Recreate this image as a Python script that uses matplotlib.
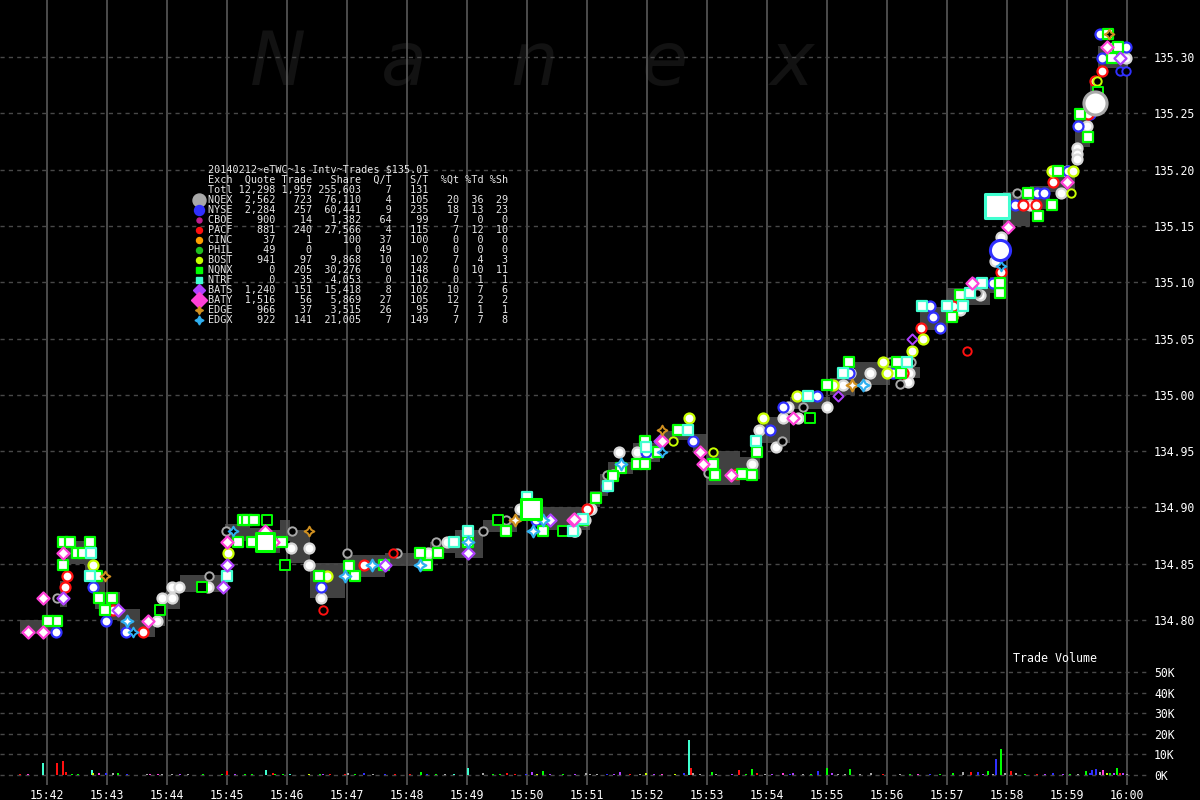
import matplotlib
matplotlib.use('Agg')
from matplotlib import pyplot as plt
import numpy as np

plt.rcParams['font.family'] = ['DejaVu Sans Mono']

# all times are seconds after 15:42:00
minutes = ['15:42', '15:43', '15:44', '15:45', '15:46', '15:47', '15:48', '15:49', '15:50',
           '15:51', '15:52', '15:53', '15:54', '15:55', '15:56', '15:57', '15:58', '15:59', '16:00']
price_ticks = [134.80, 134.85, 134.90, 134.95, 135.00, 135.05, 135.10, 135.15, 135.20, 135.25, 135.30]
vol_ticks = [0, 10000, 20000, 30000, 40000, 50000]

# NBBO band (bid / ask)
band_t = [-27, 13, 20, 38, 48, 58, 73, 93, 108, 118, 133, 178, 203, 218, 233, 243, 263, 298,
          338, 383, 408, 436, 470, 493, 543, 553, 561, 586, 613, 646, 660, 693, 713, 743,
          783, 808, 843, 873, 900, 943, 956, 983, 1003, 1028, 1043, 1051, 1071, 1081]
band_lo = [134.788, 134.812, 134.850, 134.835, 134.810, 134.800, 134.790, 134.785, 134.795, 134.810,
           134.825, 134.870, 134.868, 134.860, 134.870, 134.851, 134.820, 134.838, 134.848, 134.860,
           134.855, 134.878, 134.889, 134.880, 134.900, 134.910, 134.930, 134.940, 134.960, 134.950,
           134.920, 134.925, 134.957, 134.987, 135.000, 135.009, 135.015, 135.058, 135.080, 135.090,
           135.150, 135.165, 135.180, 135.220, 135.260, 135.290, 135.285, 135.285]
band_hi = [134.800, 134.835, 134.870, 134.860, 134.840, 134.825, 134.810, 134.800, 134.810, 134.825,
           134.840, 134.885, 134.882, 134.880, 134.889, 134.880, 134.851, 134.858, 134.860, 134.869,
           134.880, 134.889, 134.900, 134.900, 134.915, 134.930, 134.940, 134.957, 134.968, 134.965,
           134.950, 134.945, 134.980, 134.998, 135.015, 135.029, 135.025, 135.078, 135.095, 135.105,
           135.180, 135.185, 135.200, 135.245, 135.280, 135.310, 135.300, 135.300]

# trades per exchange (time, price); *_odd are odd lots drawn hollow
nqex_trades = [(115, 134.820), (125, 134.820), (125, 134.829), (132, 134.829), (161, 134.829), (110, 134.799),
               (244, 134.864), (262, 134.864), (262, 134.849), (274, 134.820), (381, 134.860), (400, 134.869),
               (538, 134.889), (543, 134.899), (527, 134.879), (473, 134.899), (572, 134.949), (604, 134.949),
               (590, 134.949), (566, 134.929), (544, 134.899), (528, 134.879), (705, 134.939), (712, 134.969),
               (729, 134.954), (736, 134.979), (741, 134.989), (751, 134.979), (780, 134.989), (796, 135.009),
               (818, 135.009), (823, 135.019), (803, 135.019), (862, 135.019), (861, 135.011), (948, 135.119),
               (954, 135.140), (933, 135.089), (913, 135.075), (1040, 135.239), (1030, 135.219), (1030, 135.214),
               (1030, 135.209), (1020, 135.199), (1014, 135.179), (983, 135.169), (1079, 135.299), (1068, 135.309)]
nqex_odd = [(10, 134.820), (162, 134.839), (179, 134.879), (245, 134.879), (300, 134.860), (389, 134.869),
            (436, 134.879), (459, 134.889), (350, 134.860), (735, 134.959), (560, 134.929), (661, 134.931),
            (843, 135.029), (864, 135.029), (853, 135.010), (756, 134.989), (930, 135.090), (970, 135.179),
            (1006, 135.199)]
nyse_trades = [(9, 134.789), (79, 134.789), (46, 134.829), (59, 134.799), (274, 134.829), (489, 134.889),
               (560, 134.919), (599, 134.949), (646, 134.959), (723, 134.969), (736, 134.989), (770, 134.999),
               (846, 135.019), (883, 135.079), (886, 135.069), (893, 135.059), (946, 135.099), (926, 135.099),
               (802, 135.019), (1031, 135.239), (990, 135.179), (997, 135.179), (968, 135.169), (1079, 135.309),
               (1053, 135.320), (1055, 135.299), (1043, 135.249), (1021, 135.199)]
nyse_odd = [(1073, 135.288), (1079, 135.288)]
pacf_trades = [(20, 134.839), (18, 134.829), (66, 134.809), (96, 134.789), (317, 134.849), (690, 134.930),
               (540, 134.899), (874, 135.059), (906, 135.079), (856, 135.019), (954, 135.109), (1048, 135.279),
               (1055, 135.288), (1006, 135.189), (989, 135.169), (976, 135.169), (1041, 135.249)]
pacf_odd = [(276, 134.809), (346, 134.860), (920, 135.039)]
bost_trades = [(46, 134.849), (181, 134.860), (280, 134.839), (642, 134.979), (716, 134.979), (750, 134.999),
               (786, 135.009), (840, 135.019), (836, 135.029), (865, 135.039), (876, 135.050), (1026, 135.199),
               (1005, 135.199)]
bost_odd = [(626, 134.959), (666, 134.949), (906, 135.069), (1024, 135.179), (1050, 135.279), (1070, 135.309)]
nqnx_trades = [(16, 134.869), (23, 134.869), (43, 134.869), (30, 134.860), (36, 134.860), (16, 134.849),
               (10, 134.799), (1, 134.799), (65, 134.820), (52, 134.820), (58, 134.809), (50, 134.839),
               (191, 134.869), (205, 134.869), (196, 134.889), (200, 134.889), (207, 134.889), (235, 134.869),
               (272, 134.839), (308, 134.839), (302, 134.848), (337, 134.849), (373, 134.860), (380, 134.849),
               (391, 134.860), (421, 134.869), (459, 134.879), (496, 134.879), (536, 134.889), (549, 134.908),
               (598, 134.959), (590, 134.939), (598, 134.939), (574, 134.935), (566, 134.928), (611, 134.949),
               (631, 134.969), (666, 134.939), (668, 134.929), (695, 134.930), (705, 134.929), (710, 134.949),
               (780, 135.009), (802, 135.029), (850, 135.029), (854, 135.019), (953, 135.090), (953, 135.099),
               (913, 135.089), (905, 135.069), (1041, 135.229), (1061, 135.320), (1071, 135.309), (1005, 135.169),
               (991, 135.159), (981, 135.179), (1033, 135.249), (1011, 135.199), (1065, 135.299)]
nqnx_odd = [(113, 134.809), (155, 134.829), (220, 134.889), (238, 134.849), (451, 134.889), (516, 134.879),
            (763, 134.979), (1051, 135.269)]
ntrf_trades = [(44, 134.860), (180, 134.839), (43, 134.839), (480, 134.909), (421, 134.879), (407, 134.869),
               (526, 134.879), (599, 134.954), (641, 134.969), (709, 134.959), (561, 134.919), (536, 134.890),
               (875, 135.079), (900, 135.079), (916, 135.079), (923, 135.090), (935, 135.099), (860, 135.029),
               (796, 135.019), (761, 134.999)]
bats_trades = [(16, 134.820), (180, 134.849), (71, 134.809), (176, 134.829), (338, 134.849), (503, 134.889),
               (421, 134.860), (613, 134.959), (1073, 135.299)]
bats_odd = [(865, 135.050), (791, 134.999)]
baty_trades = [(-19, 134.789), (-4, 134.820), (-4, 134.789), (16, 134.860), (180, 134.869), (101, 134.799),
               (218, 134.879), (526, 134.889), (226, 134.869), (615, 134.959), (653, 134.949), (656, 134.939),
               (684, 134.929), (527, 134.890), (746, 134.979), (925, 135.099), (1020, 135.189), (961, 135.149),
               (1060, 135.309)]
edge_trades = [(468, 134.889), (805, 135.009)]
edge_odd = [(58, 134.839), (262, 134.879), (615, 134.969), (1062, 135.320)]
edgx_trades = [(80, 134.799), (325, 134.849), (373, 134.849), (298, 134.839), (486, 134.879), (496, 134.889),
               (421, 134.869), (574, 134.939), (816, 135.009)]
edgx_odd = [(86, 134.789), (186, 134.879), (615, 134.949), (954, 135.114)]

# block prints (time, price, exchange, shares)
big_trades = [(950, 135.168, 'NTRF', 5000), (484, 134.899, 'NQNX', 3000), (218, 134.869, 'NQNX', 2500),
              (1048, 135.259, 'NQEX', 5000), (953, 135.129, 'NYSE', 3500)]

# trade volume (time, thousand shares, exchange)
vol_t = [-27, -19, -4, 10, 16, 19, 25, 31, 45, 46, 52, 59, 66, 71, 80, 100, 103, 111, 115, 125, 133, 141,
         156, 175, 180, 188, 198, 205, 219, 226, 228, 236, 243, 262, 273, 276, 283, 298, 301, 308, 317, 326,
         338, 348, 363, 374, 380, 389, 398, 407, 421, 436, 446, 453, 460, 468, 479, 485, 490, 496, 503, 516,
         528, 539, 543, 550, 560, 567, 573, 583, 593, 599, 607, 615, 628, 637, 642, 644, 646, 653, 665, 669,
         685, 692, 699, 705, 710, 718, 725, 736, 743, 746, 756, 764, 771, 780, 785, 791, 798, 803, 813, 824,
         836, 853, 863, 871, 883, 893, 906, 916, 924, 931, 936, 941, 946, 949, 954, 958, 964, 969, 978, 990,
         998, 1006, 1016, 1023, 1031, 1039, 1043, 1045, 1049, 1053, 1056, 1060, 1063, 1067, 1070, 1073, 1076, 1080]
vol_k = [0.3, 0.3, 5.6, 5.6, 6.8, 1.6, 0.4, 0.4, 2.4, 1.1, 0.8, 1.1, 1.1, 0.8, 0.5, 0.3, 0.3, 0.6, 0.6, 0.3,
         0.6, 0.3, 0.3, 0.3, 2.0, 0.3, 0.4, 0.3, 2.4, 1.1, 0.6, 0.6, 0.3, 0.6, 0.6, 0.6, 0.3, 0.3, 1.1, 0.3,
         1.1, 0.3, 0.3, 0.3, 0.3, 1.5, 0.5, 0.3, 0.3, 0.5, 3.5, 1.1, 0.3, 0.3, 1.1, 0.5, 0.5, 1.5, 0.5, 2.0,
         0.3, 0.3, 0.5, 1.1, 0.5, 0.5, 0.3, 0.3, 1.5, 0.3, 0.5, 1.1, 0.3, 0.3, 0.3, 1.0, 17.0, 3.2, 1.1, 0.5,
         1.5, 0.5, 0.3, 2.4, 0.3, 2.9, 1.0, 0.3, 0.5, 1.0, 0.3, 1.0, 0.3, 0.5, 2.0, 3.5, 1.1, 0.5, 0.5, 2.9,
         0.3, 1.0, 0.3, 0.5, 0.3, 0.5, 0.3, 0.3, 1.1, 1.3, 1.5, 1.3, 0.5, 1.8, 0.5, 8.0, 12.6, 1.0, 2.0, 0.8,
         0.3, 0.5, 0.3, 1.0, 0.5, 0.3, 0.5, 2.0, 1.0, 2.4, 2.9, 1.3, 2.4, 1.0, 1.1, 1.0, 3.5, 0.8, 1.1, 0.3]
vol_ex = ['PACF', 'BATY', 'NTRF', 'PACF', 'PACF', 'PACF', 'NQNX', 'NQNX', 'NTRF', 'BOST', 'BATY', 'NYSE',
          'NQEX', 'NQNX', 'NYSE', 'NQEX', 'BATY', 'BATY', 'NQEX', 'NQEX', 'BATS', 'NQEX', 'NQNX', 'NQNX',
          'PACF', 'BATS', 'NQNX', 'NQNX', 'NTRF', 'PACF', 'NQNX', 'NQNX', 'NTRF', 'BOST', 'NQNX', 'BATS',
          'PACF', 'PACF', 'NQEX', 'NQNX', 'NYSE', 'NQEX', 'NYSE', 'PACF', 'PACF', 'NQNX', 'NYSE', 'NQNX',
          'NQEX', 'NTRF', 'NTRF', 'NQEX', 'NQNX', 'NQNX', 'PACF', 'PACF', 'NYSE', 'BATS', 'BOST', 'NQNX',
          'BATS', 'NQNX', 'BATS', 'NQEX', 'NQEX', 'NQEX', 'NYSE', 'BATS', 'BATS', 'PACF', 'NQEX', 'BOST',
          'BATS', 'BATY', 'BOST', 'NYSE', 'NTRF', 'PACF', 'NQEX', 'NQEX', 'NQNX', 'NQEX', 'BATS', 'PACF',
          'NQNX', 'NQNX', 'PACF', 'NQEX', 'BATS', 'BATY', 'NYSE', 'BATS', 'NQEX', 'NQNX', 'NYSE', 'NQNX',
          'BATS', 'NQEX', 'NQEX', 'NQNX', 'NQEX', 'NQEX', 'PACF', 'NQEX', 'NQNX', 'BATY', 'NYSE', 'NQNX',
          'NQNX', 'NQEX', 'PACF', 'NYSE', 'BATS', 'NQNX', 'NQEX', 'NYSE', 'NQNX', 'NQEX', 'PACF', 'NQEX',
          'NQNX', 'PACF', 'BATS', 'NYSE', 'BATS', 'NQNX', 'NQEX', 'NQNX', 'NYSE', 'NYSE', 'NYSE', 'NQEX',
          'BATY', 'BOST', 'NQNX', 'BATS', 'NQNX', 'PACF', 'BATS', 'NQEX']

# summary table
exch = ['NQEX', 'NYSE', 'CBOE', 'PACF', 'CINC', 'PHIL', 'BOST', 'NQNX', 'NTRF', 'BATS', 'BATY', 'EDGE', 'EDGX']
quotes = [2562, 2284, 900, 881, 37, 49, 941, 0, 0, 1240, 1516, 966, 922]
trades = [723, 257, 14, 240, 1, 0, 97, 205, 35, 151, 56, 37, 141]
shares = [76110, 60441, 1382, 27566, 100, 0, 9868, 30276, 4053, 15418, 5869, 3515, 21005]
q_per_t = [4, 9, 64, 4, 37, 49, 10, 0, 0, 8, 27, 26, 7]
s_per_t = [105, 235, 99, 115, 100, 0, 102, 148, 116, 102, 105, 95, 149]
pct_qt = [20, 18, 7, 7, 0, 0, 7, 0, 0, 10, 12, 7, 7]
pct_td = [36, 13, 0, 12, 0, 0, 4, 10, 1, 7, 2, 1, 7]
pct_sh = [29, 23, 0, 10, 0, 0, 3, 11, 1, 6, 2, 1, 8]
totals = [12298, 1957, 255603, 7, 131]

colors = {'NQEX': '#a8a8a8', 'NYSE': '#3030ff', 'CBOE': '#c02090', 'PACF': '#ff1010', 'CINC': '#ffa000',
          'PHIL': '#20c020', 'BOST': '#c8ff00', 'NQNX': '#00ff00', 'NTRF': '#40ffd0', 'BATS': '#b040ff',
          'BATY': '#ff40d8', 'EDGE': '#d09020', 'EDGX': '#30b0f0'}
shapes = {'NQEX': 'o', 'NYSE': 'o', 'CBOE': 'o', 'PACF': 'o', 'CINC': 'o', 'PHIL': 'o', 'BOST': 'o',
          'NQNX': 's', 'NTRF': 's', 'BATS': 'D', 'BATY': 'D', 'EDGE': (4, 1, 0), 'EDGX': (4, 1, 0)}
base_size = {'o': 52, 's': 60, 'D': 38}

fig = plt.figure(figsize=(12, 8), dpi=100, facecolor='black')
ax = fig.add_axes([0, 145 / 800, 1147 / 1200, 655 / 800])
vax = fig.add_axes([0, 15 / 800, 1147 / 1200, 130 / 800])

for a in (ax, vax):
    a.set_facecolor('black')
    for s in a.spines.values():
        s.set_visible(False)
    a.set_xlim(-47, 1100)
    for i in range(len(minutes)):
        a.axvline(i * 60, color='#585858', lw=1.2, zorder=2)
    a.yaxis.tick_right()
    a.tick_params(length=0, colors='white', labelsize=8.3, pad=5)

ax.set_ylim(134.769, 135.3506)
ax.set_yticks(price_ticks)
ax.set_yticklabels(['%.2f' % v for v in price_ticks])
ax.set_xticks([])
for v in price_ticks:
    ax.axhline(v, color='#484848', lw=1, ls=(0, (3, 3)), zorder=2)

vax.set_ylim(-4854, 58252)
vax.set_yticks(vol_ticks)
vax.set_yticklabels(['%dK' % (v // 1000) for v in vol_ticks])
vax.set_xticks([i * 60 for i in range(len(minutes))])
vax.set_xticklabels(minutes)
vax.tick_params(axis='x', pad=3)
for v in vol_ticks:
    vax.axhline(v, color='#484848', lw=1, ls=(0, (3, 3)), zorder=2)

# watermark
for ch, xc in zip('Nanex', [278, 404, 534, 665, 792]):
    ax.text(xc / 1200, 1 - 85 / 800, ch, transform=fig.transFigure, ha='center', va='baseline',
            fontsize=54, style='italic', family='DejaVu Sans', weight=200, color='#121212', zorder=0.5)

# NBBO band
ax.fill_between(band_t, band_lo, band_hi, step='post', color='#414141', lw=0, zorder=1)

trade_sets = {'NQEX': (nqex_trades, nqex_odd), 'NYSE': (nyse_trades, nyse_odd), 'PACF': (pacf_trades, pacf_odd),
              'BOST': (bost_trades, bost_odd), 'NQNX': (nqnx_trades, nqnx_odd), 'NTRF': (ntrf_trades, []),
              'BATS': (bats_trades, bats_odd), 'BATY': (baty_trades, []), 'EDGE': (edge_trades, edge_odd),
              'EDGX': (edgx_trades, edgx_odd)}
for ex, (full, odd) in trade_sets.items():
    m = shapes[ex]
    sz = base_size.get(m, 70)
    edge = '#d8d8d8' if ex == 'NQEX' else colors[ex]
    if full:
        t, p = zip(*full)
        ax.scatter(t, p, s=sz, marker=m, facecolor='white', edgecolor=edge, lw=1.6, zorder=3)
    if odd:
        t, p = zip(*odd)
        ax.scatter(t, p, s=sz * 0.7, marker=m, facecolor='black', edgecolor=colors[ex], lw=1.4, zorder=3)

for t, p, ex, sh in big_trades:
    m = shapes[ex]
    ax.scatter([t], [p], s=base_size[m] + sh * 0.045, marker=m, facecolor='white',
               edgecolor=colors[ex], lw=2.2, zorder=4)

# volume bars
vax.bar(vol_t, np.array(vol_k) * 1000, width=1.4, color=[colors[e] for e in vol_ex], zorder=3)
vax.text(1013 / 1200, 1 - 659 / 800, 'Trade Volume', transform=fig.transFigure, color='white',
         fontsize=8.4, va='center', ha='left')

# summary table
tx = 208 / 1200
def row(y, s):
    fig.text(tx, 1 - y / 800, s, color='#e8e8e8', fontsize=7.3, va='center', ha='left', zorder=10)

fmt = '{:<4}{:>7}{:>6}{:>8}{:>5}{:>6}{:>5}{:>4}{:>4}'
row(170, '20140212~eTWC~1s Intv~Trades $135.01')
row(180, fmt.format('Exch', 'Quote', 'Trade', 'Share', 'Q/T', 'S/T', '%Qt', '%Td', '%Sh'))
row(190, fmt.format('Totl', '{:,}'.format(totals[0]), '{:,}'.format(totals[1]), '{:,}'.format(totals[2]),
                    totals[3], totals[4], '', '', ''))
leg_ms = {'NQEX': 13, 'NYSE': 10, 'CBOE': 5, 'PACF': 6, 'CINC': 6, 'PHIL': 6, 'BOST': 6, 'NQNX': 6,
          'NTRF': 6, 'BATS': 9, 'BATY': 11, 'EDGE': 8, 'EDGX': 9}
for i, ex in enumerate(exch):
    y = 200 + 10 * i
    row(y, fmt.format(ex, '{:,}'.format(quotes[i]), '{:,}'.format(trades[i]), '{:,}'.format(shares[i]),
                      q_per_t[i], s_per_t[i], pct_qt[i], pct_td[i], pct_sh[i]))
    ax.plot([199 / 1200], [1 - y / 800], transform=fig.transFigure, marker=shapes[ex],
            ms=leg_ms[ex] * 0.72, color=colors[ex], mec=colors[ex], clip_on=False, zorder=10)

fig.savefig('out.png', dpi=100, facecolor='black')
